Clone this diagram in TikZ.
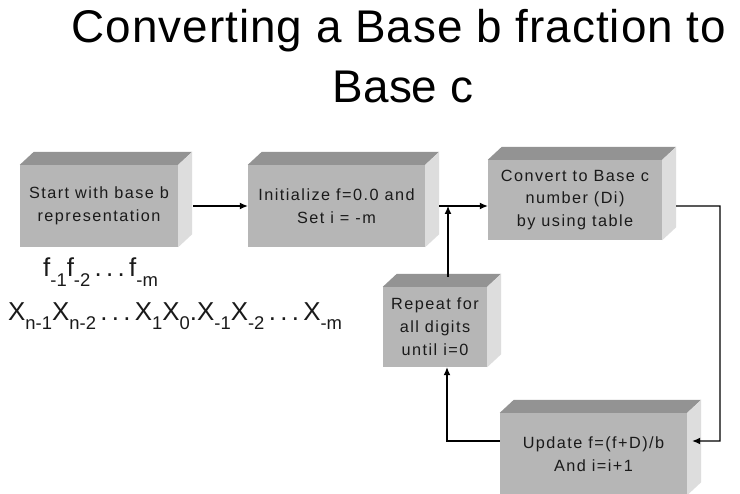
\documentclass[tikz,border=0pt]{standalone}
\usepackage{fontspec}
\setmainfont{Liberation Sans}
\newfontfamily\boxfam[LetterSpace=9]{Liberation Sans}
\newfontfamily\titlefam[LetterSpace=2.2]{Liberation Sans}
\usetikzlibrary{arrows.meta}
\definecolor{frontgray}{HTML}{B6B6B6}
\definecolor{topgray}{HTML}{939393}
\definecolor{sidegray}{HTML}{DDDDDD}
\definecolor{textcol}{HTML}{1A1A1A}
\newcommand\boxfont{\boxfam\fontsize{16.3}{23}\selectfont}
\newcommand\sbs[1]{\raisebox{-0.36em}{\fontsize{18.5}{18.5}\selectfont #1}}
\newcommand\mydots{\,.\,.\,.\,}
\tikzset{
  front/.style={fill=frontgray, draw=none, inner sep=0pt, align=center, font=\boxfont, text=textcol},
  arr/.style={-{Latex[length=8bp,width=7bp]}, line width=1.2bp, draw=black},
  titletext/.style={font=\fontsize{46}{50}\selectfont, text=black, inner sep=0pt},
  mathtext/.style={font=\fontsize{26}{26}\selectfont, text=textcol, inner sep=0pt},
}
\newcommand\cubebox[6]{%
  \node[front, minimum width=#4bp, minimum height=#5bp] (#1) at (#2,#3) {#6};
  \fill[topgray] (#1.north west) -- ++(14,-13) -- ([shift={(14,-13)}]#1.north east) -- (#1.north east) -- cycle;
  \fill[sidegray] (#1.north east) -- ++(14,-13) -- ([shift={(14,-13)}]#1.south east) -- (#1.south east) -- cycle;
}
\begin{document}
\begin{tikzpicture}[x=1bp,y=-1bp]
\useasboundingbox[fill=white] (0,0) rectangle (740,494);
\node[titletext, anchor=base] (title1) at (399,43) {\titlefam Converting a Base b fraction to};
\node[titletext, anchor=base] (title2) at (403,103) {Base c};

\cubebox{b1}{99}{206}{158}{82}{Start with base b\\representation}
\cubebox{b2}{336.5}{206}{177}{82}{Initialize f=0.0 and\\Set i = -m}
\cubebox{b3}{575}{200}{174}{80}{Convert to Base c\\number (Di)\\by using table}
\cubebox{b4}{435}{327}{104}{80}{Repeat for\\all digits\\until i=0}
\cubebox{b5}{593.5}{454}{187}{82}{Update f=(f+D)/b\\And i=i+1}

\node[mathtext, anchor=base west] (flabel) at (43,277) {f\sbs{-1}f\sbs{-2}\mydots f\sbs{-m}};
\node[mathtext, anchor=base west] (xlabel) at (8,320) {X\sbs{n-1}X\sbs{n-2}\mydots X\sbs{1}X\sbs{0}.X\sbs{-1}X\sbs{-2}\mydots X\sbs{-m}};

\coordinate (j) at (448,206);
\coordinate (r1) at (720,206);
\coordinate (r2) at (720,441);
\coordinate (l1) at (447,441);

\draw[arr] ([xshift=15bp]b1.east) -- (b2.west);
\draw[arr] ([xshift=14bp]b2.east) -- (b2.east -| b3.west);
\draw[arr] (b4.north -| j) ++(0,-10) -- (j);
\draw[arr] ([xshift=14bp,yshift=-6bp]b3.east) -- (r1) -- (r2) -- ([xshift=5bp]r2 -| b5.east);
\draw[arr] (r2 -| b5.west) -- (l1) -- (l1 |- b4.south);
\end{tikzpicture}
\end{document}
